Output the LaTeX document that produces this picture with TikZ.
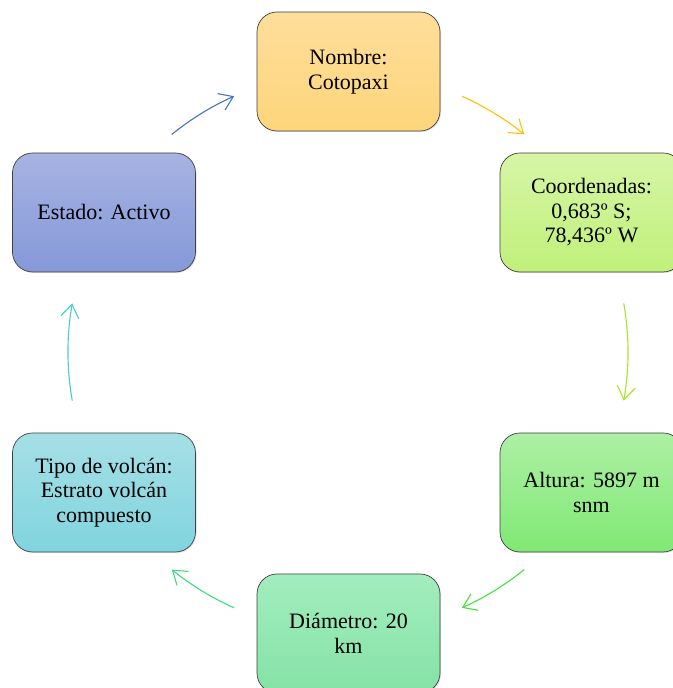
\documentclass[tikz,border=0pt]{standalone}
\usepackage{fontspec}
\setmainfont{Liberation Serif}
\usepackage{tikz}
\usetikzlibrary{arrows.meta,shadows}
\definecolor{edgeGray}{HTML}{404040}
\definecolor{arcYellow}{HTML}{FFC000}
\definecolor{arcLime}{HTML}{A6E62A}
\definecolor{arcGreen}{HTML}{48E03C}
\definecolor{arcMint}{HTML}{3CDC80}
\definecolor{arcTeal}{HTML}{48CCD4}
\definecolor{arcBlue}{HTML}{4472C4}
\definecolor{nomTop}{HTML}{FEDE9C}
\definecolor{nomBot}{HTML}{FDD57A}
\definecolor{coordTop}{HTML}{D6F5A6}
\definecolor{coordBot}{HTML}{C0F07A}
\definecolor{altTop}{HTML}{ADF0A4}
\definecolor{altBot}{HTML}{80E874}
\definecolor{diamTop}{HTML}{A3EDBE}
\definecolor{diamBot}{HTML}{84E2A6}
\definecolor{tipoTop}{HTML}{A6DFE6}
\definecolor{tipoBot}{HTML}{80D4DE}
\definecolor{estTop}{HTML}{A6B3E2}
\definecolor{estBot}{HTML}{8598D8}

\begin{document}
\begin{tikzpicture}[
  x=1pt,y=1pt,
  stage/.style={draw=edgeGray,line width=0.7pt,rounded corners=20pt,align=center,
    minimum width=183pt,minimum height=119pt,font=\fontsize{22}{24.5}\selectfont,
    drop shadow={shadow xshift=1pt,shadow yshift=-1pt,opacity=0.25}},
  arrow/.style={-{Straight Barb[length=13pt,width=18pt]},line width=1.1pt}
]
\useasboundingbox (0,0) rectangle (672,688);
\node[stage,top color=nomTop,bottom color=nomBot] (nombre) at (348.5,616.5) {Nombre:\\Cotopaxi};
\node[stage,top color=coordTop,bottom color=coordBot] (coord) at (591.5,475.5) {Coordenadas:\\0,683º S;\\78,436º W};
\node[stage,top color=altTop,bottom color=altBot] (altura) at (591.5,195.5) {Altura: 5897 m\\snm};
\node[stage,top color=diamTop,bottom color=diamBot] (diam) at (348.5,54.5) {Diámetro: 20\\km};
\node[stage,top color=tipoTop,bottom color=tipoBot] (tipo) at (104,195.5) {Tipo de volcán:\\Estrato volcán\\compuesto};
\node[stage,top color=estTop,bottom color=estBot] (estado) at (104,475.5) {Estado: Activo};
% arcs on the cycle
\coordinate (hub) at (348,336);
\coordinate (s1) at ([shift={(66:280)}]hub);
\coordinate (s2) at ([shift={(10:280)}]hub);
\coordinate (s3) at ([shift={(-51:280)}]hub);
\coordinate (s4) at ([shift={(-114:280)}]hub);
\coordinate (s5) at ([shift={(190:280)}]hub);
\coordinate (s6) at ([shift={(129:280)}]hub);
\draw[arrow,arcYellow] (s1) arc[start angle=66,end angle=51,radius=280];
\draw[arrow,arcLime] (s2) arc[start angle=10,end angle=-10,radius=280];
\draw[arrow,arcGreen] (s3) arc[start angle=-51,end angle=-66,radius=280];
\draw[arrow,arcMint] (s4) arc[start angle=-114,end angle=-129,radius=280];
\draw[arrow,arcTeal] (s5) arc[start angle=190,end angle=170,radius=280];
\draw[arrow,arcBlue] (s6) arc[start angle=129,end angle=114,radius=280];
\end{tikzpicture}
\end{document}
